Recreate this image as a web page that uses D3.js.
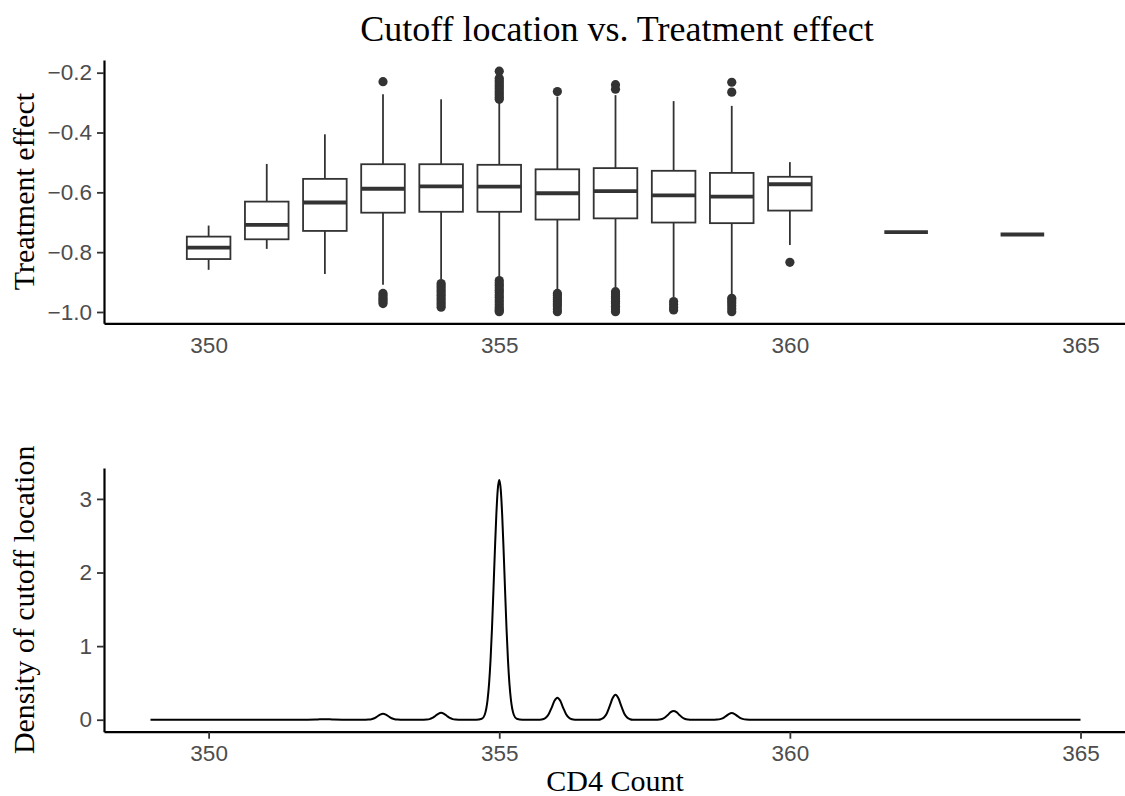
<!DOCTYPE html>
<html>
<head>
<meta charset="utf-8">
<script src="https://cdn.jsdelivr.net/npm/d3@7"></script>
<style>
  html, body { margin: 0; padding: 0; background: #fff; }
  svg { display: block; }
</style>
</head>
<body>
<svg id="chart" width="1125" height="796"></svg>
<script>
// ---- Box plot summaries: treatment effect by cutoff location ----
const cutoffs     = [350, 351, 352, 353, 354, 355, 356, 357, 358, 359, 360, 362, 364];
const whiskerLow  = [-0.859, -0.789, -0.873, -0.909, -0.890, -0.882, -0.924, -0.917, -0.950, -0.940, -0.776, -0.733, -0.741];
const q1          = [-0.823, -0.757, -0.729, -0.668, -0.665, -0.665, -0.691, -0.687, -0.701, -0.703, -0.661, -0.733, -0.741];
const medians     = [-0.785, -0.709, -0.634, -0.588, -0.580, -0.581, -0.603, -0.596, -0.610, -0.614, -0.573, -0.733, -0.741];
const q3          = [-0.748, -0.631, -0.555, -0.506, -0.506, -0.508, -0.523, -0.519, -0.528, -0.535, -0.548, -0.733, -0.741];
const whiskerHigh = [-0.711, -0.505, -0.406, -0.272, -0.289, -0.286, -0.280, -0.275, -0.295, -0.311, -0.499, -0.733, -0.741];

// outlying estimates per cutoff
const outlierCutoff = [
  353, 353, 353, 353, 353, 353, 353,
  354, 354, 354, 354, 354, 354, 354, 354, 354, 354, 354,
  355, 355, 355, 355, 355, 355, 355, 355, 355, 355, 355, 355,
  355, 355, 355, 355, 355, 355, 355, 355, 355, 355, 355, 355, 355, 355, 355,
  356, 356, 356, 356, 356, 356, 356, 356, 356, 356,
  357, 357, 357, 357, 357, 357, 357, 357, 357, 357, 357,
  358, 358, 358, 358,
  359, 359, 359, 359, 359, 359, 359, 359,
  360
];
const outlierValue = [
  -0.230, -0.938, -0.945, -0.952, -0.958, -0.965, -0.972,
  -0.905, -0.912, -0.920, -0.928, -0.936, -0.944, -0.952, -0.960, -0.968, -0.976, -0.984,
  -0.195, -0.219, -0.226, -0.233, -0.240, -0.247, -0.254, -0.261, -0.268, -0.275, -0.282, -0.289,
  -0.895, -0.903, -0.911, -0.919, -0.927, -0.935, -0.943, -0.951, -0.959, -0.967, -0.975, -0.983, -0.990, -0.995, -0.999,
  -0.263, -0.938, -0.945, -0.952, -0.959, -0.966, -0.973, -0.980, -0.990, -0.999,
  -0.240, -0.255, -0.932, -0.940, -0.948, -0.956, -0.964, -0.972, -0.981, -0.990, -0.999,
  -0.965, -0.975, -0.985, -0.993,
  -0.232, -0.265, -0.954, -0.962, -0.970, -0.979, -0.989, -0.999,
  -0.834
];

// ---- Estimated density of the cutoff location ----
const densityX = [
  349.0, 351.7, 351.85, 352.0, 352.15, 352.3,
  352.7, 352.75, 352.8, 352.85, 352.9, 352.95, 353.0, 353.05, 353.1, 353.15, 353.2, 353.25, 353.3,
  353.7, 353.75, 353.8, 353.85, 353.9, 353.95, 354.0, 354.05, 354.1, 354.15, 354.2, 354.25, 354.3,
  354.6, 354.7, 354.75, 354.8, 354.825, 354.85, 354.875, 354.9, 354.925, 354.95, 354.975, 355.0,
  355.025, 355.05, 355.075, 355.1, 355.125, 355.15, 355.175, 355.2, 355.25, 355.3, 355.4,
  355.7, 355.75, 355.8, 355.85, 355.9, 355.95, 356.0, 356.05, 356.1, 356.15, 356.2, 356.25, 356.3,
  356.7, 356.75, 356.8, 356.85, 356.9, 356.95, 357.0, 357.05, 357.1, 357.15, 357.2, 357.25, 357.3,
  357.7, 357.75, 357.8, 357.85, 357.9, 357.95, 358.0, 358.05, 358.1, 358.15, 358.2, 358.25, 358.3,
  358.7, 358.75, 358.8, 358.85, 358.9, 358.95, 359.0, 359.05, 359.1, 359.15, 359.2, 359.25, 359.3,
  365.0
];
const densityY = [
  0, 0, 0.002, 0.008, 0.002, 0,
  0, 0.002, 0.007, 0.020, 0.044, 0.069, 0.081, 0.069, 0.044, 0.020, 0.007, 0.002, 0,
  0, 0.002, 0.008, 0.024, 0.051, 0.081, 0.095, 0.081, 0.051, 0.024, 0.008, 0.002, 0,
  0, 0.013, 0.068, 0.276, 0.49, 0.81, 1.24, 1.76, 2.30, 2.79, 3.134, 3.257,
  3.134, 2.79, 2.30, 1.76, 1.24, 0.81, 0.49, 0.276, 0.068, 0.013, 0,
  0, 0.006, 0.026, 0.075, 0.162, 0.257, 0.300, 0.257, 0.162, 0.075, 0.026, 0.006, 0,
  0, 0.007, 0.029, 0.085, 0.184, 0.291, 0.340, 0.291, 0.184, 0.085, 0.029, 0.007, 0,
  0, 0.003, 0.010, 0.030, 0.065, 0.103, 0.120, 0.103, 0.065, 0.030, 0.010, 0.003, 0,
  0, 0.002, 0.008, 0.022, 0.049, 0.077, 0.090, 0.077, 0.049, 0.022, 0.008, 0.002, 0,
  0
];

// ---- Tick labels ----
const xTicks = [350, 355, 360, 365];
const effectTicks = [-1.0, -0.8, -0.6, -0.4, -0.2];
const densityTicks = [0, 1, 2, 3];

// ---- Layout ----
const svg = d3.select("#chart");
const left = 104, right = 1127;
const top1 = 60, bottom1 = 323.3;
const top2 = 468, bottom2 = 731.7;
const serif = "'Liberation Serif', 'Times New Roman', serif";
const sans = "'Liberation Sans', Arial, sans-serif";
const ink = "#333333";

const x = d3.scaleLinear().domain([348.2, 365.8]).range([left, right]);
const yEffect = d3.scaleLinear().domain([-1.0378, -0.1576]).range([bottom1, top1]);
const yDensity = d3.scaleLinear().domain([-0.1628, 3.42]).range([bottom2, top2]);
const boxWidth = 0.75;

// Title
svg.append("text")
  .attr("x", 617).attr("y", 41)
  .attr("text-anchor", "middle")
  .style("font-family", serif).style("font-size", "36px").style("fill", "#000")
  .text("Cutoff location vs. Treatment effect");

// ---- Top panel: box plots ----
const boxes = cutoffs.map((c, i) => ({
  c, lo: whiskerLow[i], q1: q1[i], med: medians[i], q3: q3[i], hi: whiskerHigh[i]
}));
const gBox = svg.append("g");

gBox.selectAll("line.whisker-up").data(boxes).enter().append("line")
  .attr("x1", d => x(d.c)).attr("x2", d => x(d.c))
  .attr("y1", d => yEffect(d.q3)).attr("y2", d => yEffect(d.hi))
  .attr("stroke", ink).attr("stroke-width", 1.8);
gBox.selectAll("line.whisker-down").data(boxes).enter().append("line")
  .attr("x1", d => x(d.c)).attr("x2", d => x(d.c))
  .attr("y1", d => yEffect(d.q1)).attr("y2", d => yEffect(d.lo))
  .attr("stroke", ink).attr("stroke-width", 1.8);
gBox.selectAll("rect.box").data(boxes).enter().append("rect")
  .attr("x", d => x(d.c - boxWidth / 2))
  .attr("width", d => x(d.c + boxWidth / 2) - x(d.c - boxWidth / 2))
  .attr("y", d => yEffect(d.q3))
  .attr("height", d => yEffect(d.q1) - yEffect(d.q3))
  .attr("fill", "#fff").attr("stroke", ink).attr("stroke-width", 1.8);
gBox.selectAll("line.median").data(boxes).enter().append("line")
  .attr("x1", d => x(d.c - boxWidth / 2)).attr("x2", d => x(d.c + boxWidth / 2))
  .attr("y1", d => yEffect(d.med)).attr("y2", d => yEffect(d.med))
  .attr("stroke", ink).attr("stroke-width", 3.8);

gBox.selectAll("circle.outlier").data(outlierCutoff.map((c, i) => ({ c, v: outlierValue[i] })))
  .enter().append("circle")
  .attr("cx", d => x(d.c)).attr("cy", d => yEffect(d.v))
  .attr("r", 4.6).attr("fill", ink);

// Top axes
const axisEffect = d3.axisLeft(yEffect).tickValues(effectTicks)
  .tickFormat(d => d3.format(".1f")(d).replace("-", "\u2212"))
  .tickSize(7).tickSizeOuter(0).tickPadding(5);
const gyTop = svg.append("g").attr("transform", `translate(${left},0)`).call(axisEffect);
const axisTopX = d3.axisBottom(x).tickValues(xTicks).tickFormat(d3.format("d"))
  .tickSize(0).tickSizeOuter(0).tickPadding(14);
const gxTop = svg.append("g").attr("transform", `translate(0,${bottom1})`).call(axisTopX);

// ---- Bottom panel: density ----
const line = d3.line().x(d => x(d[0])).y(d => yDensity(d[1])).curve(d3.curveMonotoneX);
svg.append("path")
  .datum(densityX.map((v, i) => [v, densityY[i]]))
  .attr("d", line)
  .attr("fill", "none").attr("stroke", "#000").attr("stroke-width", 2)
  .attr("stroke-linejoin", "round");

const axisDensity = d3.axisLeft(yDensity).tickValues(densityTicks).tickFormat(d3.format("d"))
  .tickSize(7).tickSizeOuter(0).tickPadding(5);
const gyBot = svg.append("g").attr("transform", `translate(${left},0)`).call(axisDensity);
const axisBotX = d3.axisBottom(x).tickValues(xTicks).tickFormat(d3.format("d"))
  .tickSize(7).tickSizeOuter(0).tickPadding(6);
const gxBot = svg.append("g").attr("transform", `translate(0,${bottom2})`).call(axisBotX);

// Shared axis styling
[gyTop, gxTop, gyBot, gxBot].forEach(g => {
  g.select(".domain").attr("stroke", "#000").attr("stroke-width", 2.2);
  g.selectAll(".tick line").attr("stroke", ink).attr("stroke-width", 1.8);
  g.selectAll(".tick text").style("font-family", sans).style("font-size", "22.5px").attr("fill", "#4d4d4d");
});

// Axis titles
svg.append("text")
  .attr("transform", `translate(33.5,${(top1 + bottom1) / 2}) rotate(-90)`)
  .attr("text-anchor", "middle")
  .style("font-family", serif).style("font-size", "30px").style("fill", "#000")
  .text("Treatment effect");
svg.append("text")
  .attr("transform", `translate(33.5,${(top2 + bottom2) / 2}) rotate(-90)`)
  .attr("text-anchor", "middle")
  .style("font-family", serif).style("font-size", "30px").style("fill", "#000")
  .text("Density of cutoff location");
svg.append("text")
  .attr("x", 615).attr("y", 791)
  .attr("text-anchor", "middle")
  .style("font-family", serif).style("font-size", "30px").style("fill", "#000")
  .text("CD4 Count");
</script>
</body>
</html>
